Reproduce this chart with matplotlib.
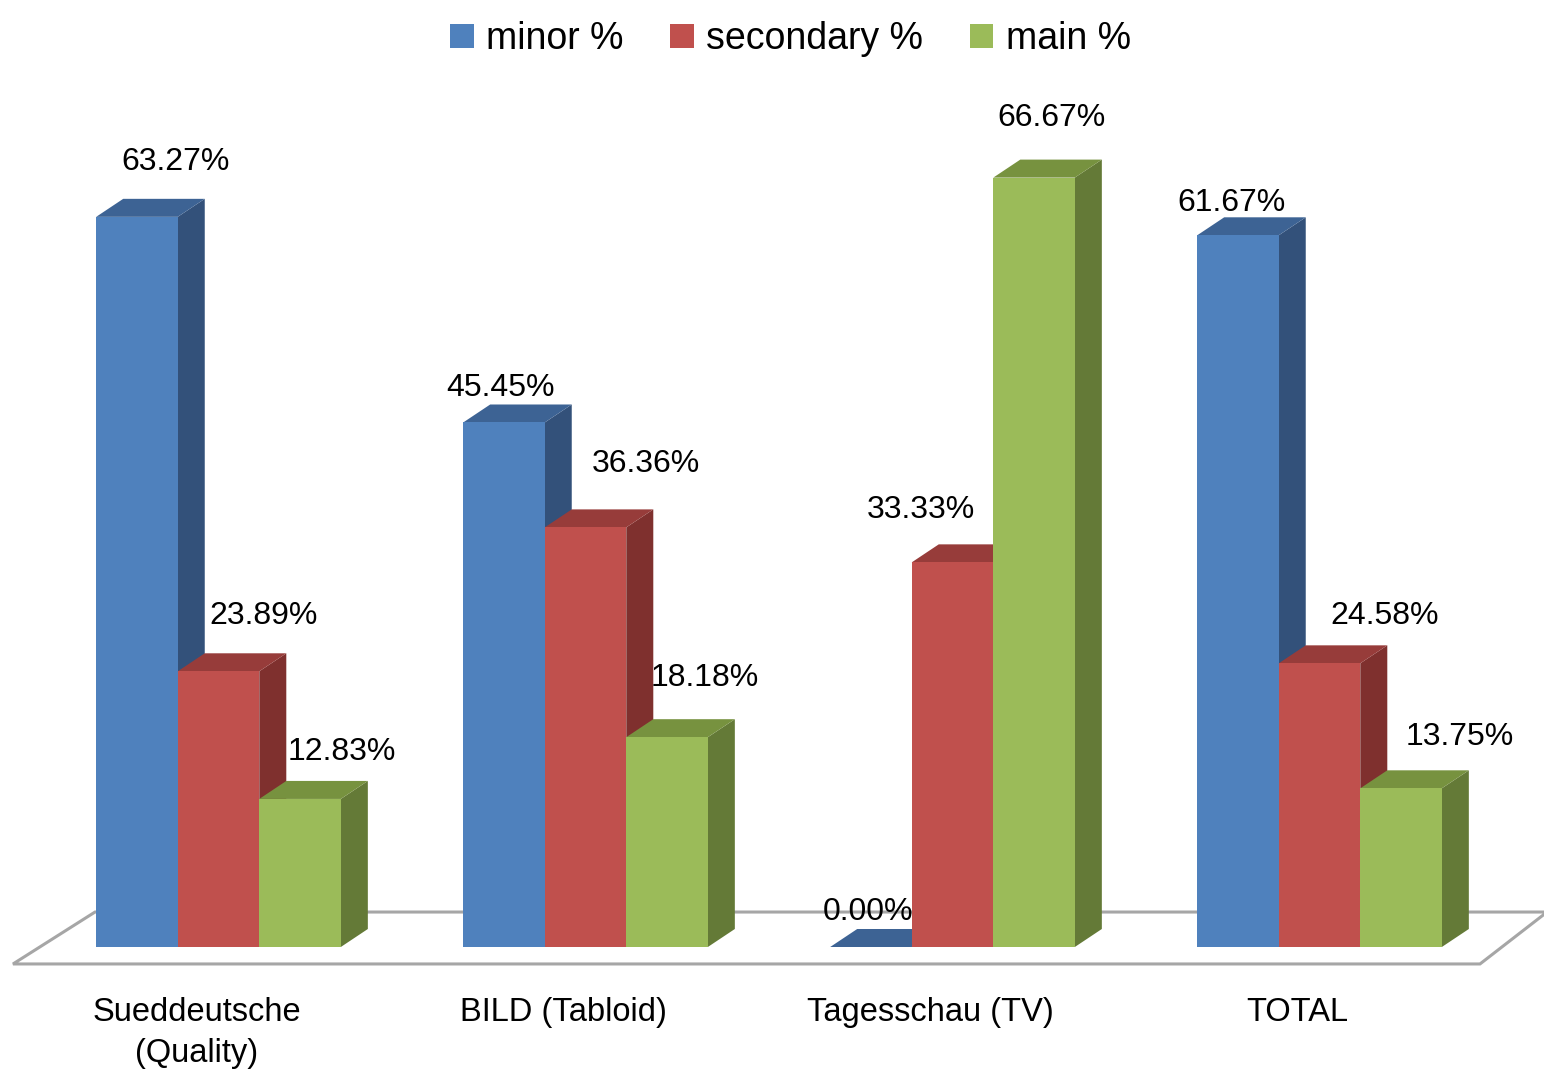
import matplotlib
matplotlib.use("Agg")
import matplotlib.pyplot as plt
from matplotlib.patches import Polygon, Patch

plt.rcParams['font.family'] = ['Liberation Sans Narrow', 'Liberation Sans', 'DejaVu Sans']

# data
categories = ['Sueddeutsche\n(Quality)', 'BILD (Tabloid)', 'Tagesschau (TV)', 'TOTAL']
series = ['minor %', 'secondary %', 'main %']
minor = [63.27, 45.45, 0.00, 61.67]
secondary = [23.89, 36.36, 33.33, 24.58]
main = [12.83, 18.18, 66.67, 13.75]

# colours: front, side, top
front_cols = ['#4F81BD', '#C0504D', '#9BBB59']
side_cols = ['#33517A', '#7F302E', '#647A37']
top_cols = ['#3D6394', '#973C3A', '#77923F']

# label nudges (pixels) so labels sit like in the original
label_off = [
    [(39, 57), (45, 57), (42, 49)],
    [(-3, 36), (60, 65), (38, 61)],
    [(-3, 37), (-32, 54), (17, 62)],
    [(-6, 34), (65, 49), (59, 53)],
]

fig = plt.figure(figsize=(15.44, 10.74), dpi=100)
ax = fig.add_axes([0, 0, 1, 1])
ax.set_xlim(-0.5954, 3.6117)
ax.set_ylim(-11.005, 82.06)
ax.axis('off')

w = 0.2222   # bar width (group units)
ddx = 0.0736  # depth shift in x
ddy = 1.56    # depth shift in y (%)

# floor
floor = Polygon([(-0.3365, 3.03), (3.62, 3.03), (3.4373, -1.47), (-0.56, -1.47)],
                closed=True, facecolor='white', edgecolor='#A6A6A6', lw=2.2, zorder=1)
ax.add_patch(floor)

values = [minor, secondary, main]
for i in range(len(categories)):
    for j in range(len(series)):
        v = values[j][i]
        x0 = i - 1.5 * w + j * w
        z = 2 + i * 10 + j * 3
        ax.bar(x0, v, width=w, align='edge', color=front_cols[j], lw=0, zorder=z + 2)
        side = Polygon([(x0 + w, 0), (x0 + w + ddx, ddy), (x0 + w + ddx, v + ddy), (x0 + w, v)],
                       closed=True, facecolor=side_cols[j], lw=0, zorder=z)
        top = Polygon([(x0, v), (x0 + w, v), (x0 + w + ddx, v + ddy), (x0 + ddx, v + ddy)],
                      closed=True, facecolor=top_cols[j], lw=0, zorder=z + 1)
        ax.add_patch(side)
        ax.add_patch(top)
        ox, oy = label_off[i][j]
        ax.annotate(f'{v:.2f}%', (x0 + w / 2, v), xytext=(ox, oy - 2), textcoords='offset pixels',
                    ha='center', va='center', fontsize=23, color='black', zorder=100)

# category labels
for i, c in enumerate(categories):
    ax.text(i - 0.06, -4.35, c, ha='center', va='top', fontsize=23.5, linespacing=1.42)

handles = [Patch(facecolor=front_cols[j], label=series[j]) for j in range(3)]
fig.legend(handles=handles, loc='upper center', bbox_to_anchor=(0.512, 1.012), ncol=3,
           frameon=False, fontsize=27, handlelength=0.62, handleheight=0.62,
           handletextpad=0.33, columnspacing=1.25)

fig.savefig('out.png', dpi=100)
